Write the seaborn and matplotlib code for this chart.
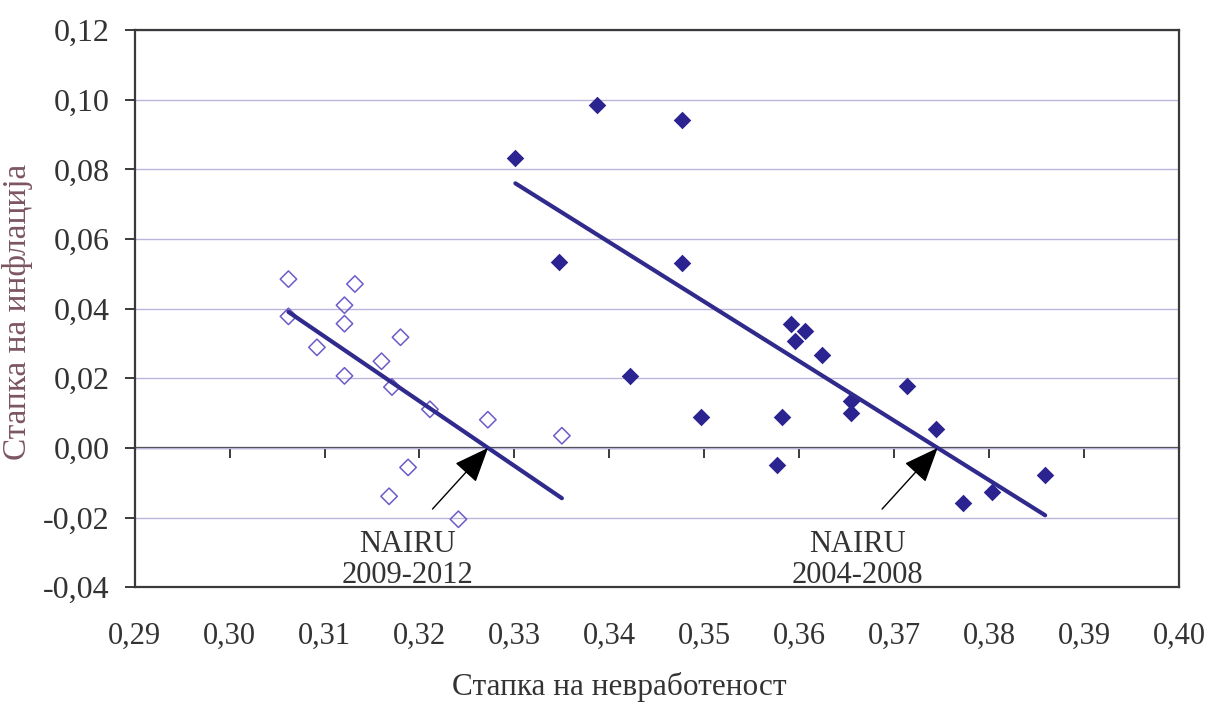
import numpy as np
import seaborn as sns
import matplotlib.pyplot as plt
from matplotlib.ticker import FuncFormatter, MultipleLocator

# 2009-2012 (open diamonds)
unemp_0912 = [0.3062, 0.3062, 0.3132, 0.3121, 0.3121, 0.3092, 0.3180, 0.3160,
              0.3121, 0.3171, 0.3211, 0.3272, 0.3350, 0.3188, 0.3168, 0.3241]
infl_0912 = [0.0485, 0.0378, 0.0471, 0.0410, 0.0357, 0.0289, 0.0318, 0.0249,
             0.0207, 0.0175, 0.0111, 0.0081, 0.0035, -0.0056, -0.0139, -0.0205]

# 2004-2008 (filled diamonds)
unemp_0408 = [0.3301, 0.3387, 0.3477, 0.3347, 0.3476, 0.3422, 0.3496, 0.3582,
              0.3591, 0.3606, 0.3595, 0.3624, 0.3654, 0.3654, 0.3577, 0.3714,
              0.3744, 0.3772, 0.3803, 0.3859]
infl_0408 = [0.0833, 0.0984, 0.0942, 0.0533, 0.0530, 0.0207, 0.0088, 0.0089,
             0.0355, 0.0337, 0.0306, 0.0266, 0.0134, 0.0101, -0.0048, 0.0179,
             0.0053, -0.0157, -0.0126, -0.0078]

x_ticks = [0.29, 0.30, 0.31, 0.32, 0.33, 0.34, 0.35, 0.36, 0.37, 0.38, 0.39, 0.40]

line_col = "#2f2a8c"
open_col = "#6b5cc8"
fill_col = "#2b2390"
frame_col = "#3a3a3a"

sns.set_theme(style="white")
plt.rcParams["font.family"] = ["Liberation Serif", "DejaVu Serif"]

fig = plt.figure(figsize=(12.13, 7.04), dpi=100)
ax = fig.add_axes([0.111, 0.166, 0.861, 0.791])

# scatter + fitted lines
sns.regplot(x=np.array(unemp_0912), y=np.array(infl_0912), ax=ax, ci=None, marker="D",
            scatter_kws=dict(s=70, facecolors="none", edgecolors=open_col, linewidths=1.1,
                             alpha=1, zorder=3),
            line_kws=dict(color=line_col, lw=3, zorder=4))
sns.regplot(x=np.array(unemp_0408), y=np.array(infl_0408), ax=ax, ci=None, marker="D",
            scatter_kws=dict(s=80, color=fill_col, alpha=1, linewidths=0, zorder=3),
            line_kws=dict(color=line_col, lw=3, zorder=4))

ax.set_xlim(0.29, 0.40)
ax.set_ylim(-0.04, 0.12)
ax.yaxis.set_major_locator(MultipleLocator(0.02))
ax.set_xticks(x_ticks)
comma = FuncFormatter(lambda v, p: f"{v:.2f}".replace(".", ","))
ax.xaxis.set_major_formatter(comma)
ax.yaxis.set_major_formatter(comma)

ax.grid(axis="y", color="#bdb4dc", lw=1)
ax.grid(axis="x", visible=False)
for s in ax.spines.values():
    s.set_color(frame_col)
    s.set_linewidth(1.6)

ax.tick_params(axis="y", direction="out", length=7, width=1.4, color=frame_col,
               pad=11, labelsize=23, labelcolor="#333333", left=True)
ax.tick_params(axis="x", length=0, pad=25, labelsize=22, labelcolor="#333333")

# axis line at zero with tick marks
zero_ax = ax.secondary_xaxis(0.25)
zero_ax.set_xticks(x_ticks[1:-1])
zero_ax.set_xticklabels([])
zero_ax.tick_params(direction="out", length=7, width=1.4, color=frame_col)
zero_ax.spines["bottom"].set_color(frame_col)
zero_ax.spines["bottom"].set_linewidth(1.6)

ax.set_ylabel("Стапка на инфлација", fontsize=24, color="#7b5560")
ax.yaxis.set_label_coords(-0.097, 0.495)
ax.set_xlabel("Стапка на невработеност", fontsize=22.5, color="#333333")
ax.xaxis.set_label_coords(0.464, -0.152)

# NAIRU annotations at the zero crossing of each fit
for xs, ys, label in [(unemp_0912, infl_0912, "NAIRU\n2009-2012"),
                      (unemp_0408, infl_0408, "NAIRU\n2004-2008")]:
    slope, icpt = np.polyfit(xs, ys, 1)
    nairu = -icpt / slope
    ax.annotate("", xy=(nairu, 0), xytext=(-40, -44), textcoords="offset points",
                arrowprops=dict(arrowstyle="-|>,head_length=1.1,head_width=0.45",
                                color="black", lw=1, mutation_scale=20, shrinkA=0, shrinkB=0),
                zorder=5)
    ax.annotate(label, xy=(nairu, 0), xytext=(-58, -59), textcoords="offset points",
                ha="center", va="top", fontsize=22, color="#333333", linespacing=1.1)

plt.savefig("out.png", dpi=100)
